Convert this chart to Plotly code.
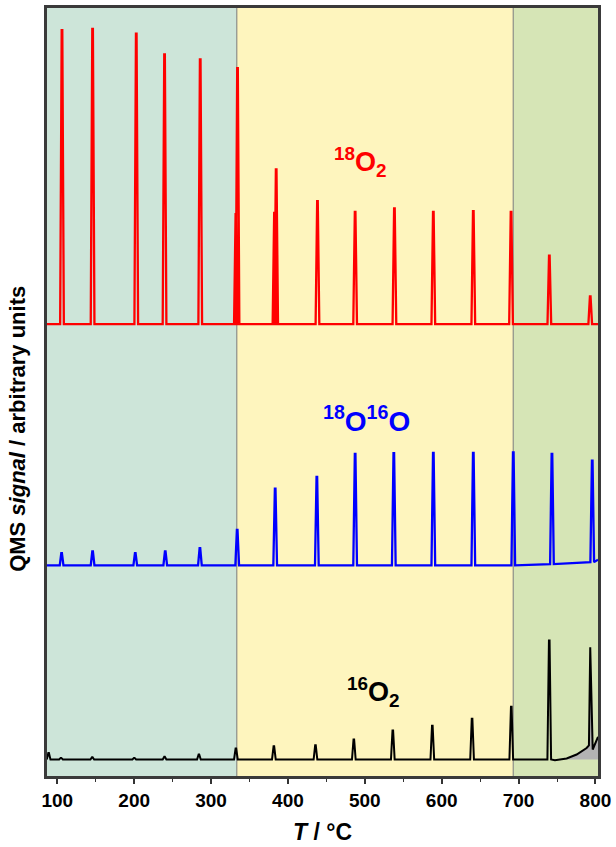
import plotly.graph_objects as go

# ---------------- data ----------------
x_min, x_max = 86.6, 803.3
region_bounds = [333.5, 693.0]
tick_vals = [100, 200, 300, 400, 500, 600, 700, 800]
tick_text = ["100", "200", "300", "400", "500", "600", "700", "800"]

# 18O2 (red)
red_base = 58.84
red_T = [106.1, 145.9, 202.7, 239.5, 285.9, 332.3, 334.4, 382.5, 384.7, 438.4,
         487.4, 538.5, 589.1, 641.1, 690.2, 740.0, 793.2]
red_top = [97.12, 97.29, 96.65, 93.97, 93.32, 73.16, 92.17, 73.33, 78.97, 74.84,
           73.46, 73.90, 73.46, 73.55, 73.46, 67.74, 62.45]

# 18O16O (blue)
blue_T = [105.6, 145.9, 201.4, 240.4, 285.5, 334.0, 383.4, 437.6, 487.4, 537.7,
          589.1, 641.1, 693.1, 743.4, 795.8]
blue_top = [29.03, 29.25, 29.03, 29.25, 29.68, 32.04, 37.42, 38.93, 41.94, 42.03,
            42.06, 42.06, 42.15, 41.94, 41.07]
blue_foot = [27.42, 27.42, 27.42, 27.42, 27.42, 27.42, 27.42, 27.42, 27.42, 27.42,
             27.42, 27.42, 27.42, 27.60, 27.85]
blue_end = 28.17

# 16O2 (black)
black_base = 2.15
black_T = [88.7, 104.8, 145.5, 200.1, 239.5, 284.2, 332.3, 381.7, 435.8, 485.7,
           536.4, 587.8, 639.5, 690.5, 739.9]
black_top = [3.0, 2.36, 2.45, 2.36, 2.5, 2.8, 3.57, 3.87, 4.0, 4.74,
             5.94, 6.54, 7.45, 9.03, 17.64]
black_tail_T = [747.3, 762.5, 775.5, 788.5, 791.5, 793.2, 796.4, 803.3]
black_tail_y = [2.06, 2.28, 2.8, 3.65, 4.0, 16.77, 3.45, 5.1]

HW = 2.4  # half base width of a peak (°C)


def build(ts, tops, feet):
    xs, ys = [], []
    for t, h, f in zip(ts, tops, feet):
        xs += [t - HW, t - 0.4, t + 0.4, t + HW]
        ys += [f, h, h, f]
    return xs, ys


rx, ry = build(red_T, red_top, [red_base] * len(red_T))
rx = [x_min] + rx + [x_max]
ry = [red_base] + ry + [red_base]

bx, by = build(blue_T, blue_top, blue_foot)
bx = [x_min] + bx + [x_max]
by = [blue_foot[0]] + by + [blue_end]

kx, ky = build(black_T, black_top, [black_base] * len(black_T))
kx = [x_min] + kx + black_tail_T
ky = [black_base] + ky + black_tail_y

fig = go.Figure()

fig.add_trace(go.Scatter(x=[black_tail_T[0], black_tail_T[-1]], y=[black_base, black_base],
                         mode="lines", line=dict(width=0, color="rgba(0,0,0,0)"),
                         showlegend=False, hoverinfo="skip"))
fig.add_trace(go.Scatter(x=black_tail_T, y=black_tail_y, mode="lines",
                         line=dict(width=0, color="rgba(0,0,0,0)"),
                         fill="tonexty", fillcolor="#b3b3b3",
                         showlegend=False, hoverinfo="skip"))

fig.add_trace(go.Scatter(x=rx, y=ry, mode="lines", line=dict(color="#ff0000", width=2.3),
                         showlegend=False))
fig.add_trace(go.Scatter(x=bx, y=by, mode="lines", line=dict(color="#0000ff", width=2.3),
                         showlegend=False))
fig.add_trace(go.Scatter(x=kx, y=ky, mode="lines", line=dict(color="#000000", width=2),
                         showlegend=False))

region_colors = ["#cde5d9", "#fef5be", "#d6e5b6"]
edges = [x_min] + region_bounds + [x_max]
for i in range(3):
    fig.add_shape(type="rect", xref="x", yref="paper", x0=edges[i], x1=edges[i + 1],
                  y0=0, y1=1, fillcolor=region_colors[i], line=dict(width=0), layer="below")
for b in region_bounds:
    fig.add_shape(type="line", xref="x", yref="paper", x0=b, x1=b, y0=0, y1=1,
                  line=dict(color="#7a7a7a", width=1), layer="below")

FAM = "Liberation Sans, Arial, sans-serif"
lab_font = dict(family=FAM, size=27, weight="bold")
fig.add_annotation(x=494, y=80, xref="x", yref="y", text="<b><sup>18</sup>O<sub>2</sub></b>",
                   showarrow=False, font=dict(color="#ff0000", **lab_font))
fig.add_annotation(x=502, y=46.5, xref="x", yref="y", text="<b><sup>18</sup>O<sup>16</sup>O</b>",
                   showarrow=False, font=dict(color="#0000ff", size=28, family=FAM, weight="bold"))
fig.add_annotation(x=511, y=11.0, xref="x", yref="y", text="<b><sup>16</sup>O<sub>2</sub></b>",
                   showarrow=False, font=dict(color="#000000", **lab_font))

fig.add_annotation(x=-0.055, y=0.4516, xref="paper", yref="paper",
                   text="<b>QMS <i>signal</i> / arbitrary units</b>", textangle=-90,
                   showarrow=False, xanchor="center", yanchor="middle",
                   font=dict(family=FAM, size=22, color="#000000", weight="bold"))

fig.update_layout(
    width=616, height=847,
    margin=dict(l=47, r=18, t=5, b=67),
    paper_bgcolor="white", plot_bgcolor="white",
    font=dict(family=FAM, color="#000000", weight="bold"),
    xaxis=dict(range=[x_min, x_max], tickvals=tick_vals,
               ticktext=["<b>%s</b>" % t for t in tick_text],
               ticks="outside", ticklen=5, tickwidth=1.5, tickcolor="#333333",
               minor=dict(dtick=50, tick0=50, ticks="outside", ticklen=3, tickwidth=1.2,
                          tickcolor="#333333"),
               tickfont=dict(size=19, weight="bold"),
               showline=True, mirror=True, linewidth=2.5, linecolor="#3a3a3a",
               showgrid=False, zeroline=False,
               title=dict(text="<b><i>T</i> / °C</b>", font=dict(size=23, weight="bold"),
                          standoff=15)),
    yaxis=dict(range=[0, 100], showticklabels=False, ticks="", showgrid=False,
               zeroline=False, showline=True, mirror=True, linewidth=2.5,
               linecolor="#3a3a3a"),
)

fig.write_html("out.html", config={"displayModeBar": False},
               post_script="document.body.style.margin='0';document.body.style.overflow='hidden';")
